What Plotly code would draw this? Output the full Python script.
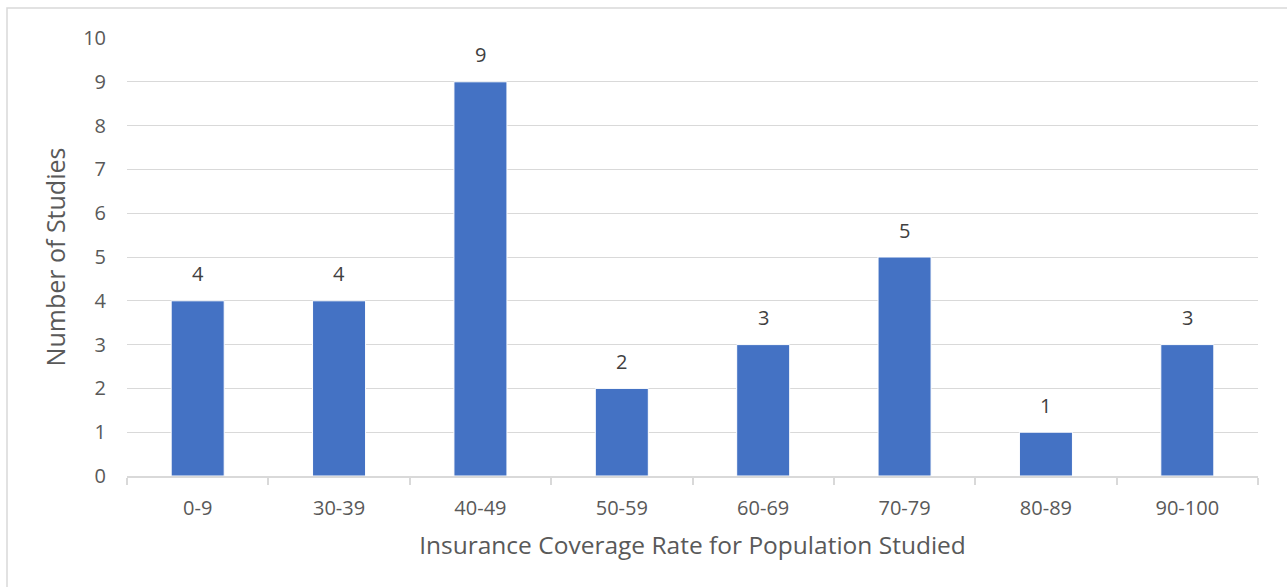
import plotly.graph_objects as go

# Study counts by insurance coverage band
coverage_bands = ["0-9", "30-39", "40-49", "50-59", "60-69", "70-79", "80-89", "90-100"]
study_counts = [4, 4, 9, 2, 3, 5, 1, 3]
y_tick_values = list(range(0, 11))

FONT = "Open Sans"
TEXT_COLOR = "#595959"
GRID_COLOR = "#d9d9d9"
BAR_COLOR = "#4472C4"

fig = go.Figure()
fig.add_trace(go.Bar(
    x=coverage_bands,
    y=study_counts,
    marker=dict(color=BAR_COLOR, line=dict(color="white", width=1)),
    hoverinfo="x+y",
))

# Value labels above each bar
for band, count in zip(coverage_bands, study_counts):
    fig.add_annotation(
        x=band, y=count, text=str(count), showarrow=False,
        yshift=27, font=dict(family=FONT, size=20, color="#404040"),
    )

# Light chart frame
fig.add_shape(
    type="rect", xref="paper", yref="paper",
    x0=-0.1061, x1=1.03, y0=-0.27, y1=1.0685,
    line=dict(color=GRID_COLOR, width=1.5), layer="below",
)

fig.update_layout(
    width=1287, height=587,
    margin=dict(l=127, r=29, t=38, b=111),
    paper_bgcolor="white", plot_bgcolor="white",
    bargap=0.625, showlegend=False,
    font=dict(family=FONT, size=16, color=TEXT_COLOR),
)
fig.update_xaxes(
    type="category", tickson="boundaries",
    ticks="outside", ticklen=7, tickcolor=GRID_COLOR, tickwidth=1.5,
    showline=True, linecolor=GRID_COLOR, linewidth=1.5,
    showgrid=False, zeroline=False,
    ticklabelstandoff=13,
    tickfont=dict(family=FONT, size=20, color=TEXT_COLOR),
    title=dict(text="Insurance Coverage Rate for Population Studied",
               font=dict(family=FONT, size=24.5, color=TEXT_COLOR), standoff=17),
)
fig.update_yaxes(
    range=[0, 10], tickvals=y_tick_values,
    showgrid=True, gridcolor=GRID_COLOR, gridwidth=1.2,
    zeroline=False, showline=False, ticks="",
    ticklabelstandoff=20,
    tickfont=dict(family=FONT, size=20, color=TEXT_COLOR),
    title=dict(text="Number of Studies",
               font=dict(family=FONT, size=25, color=TEXT_COLOR), standoff=10),
)

fig.write_html("out.html")
